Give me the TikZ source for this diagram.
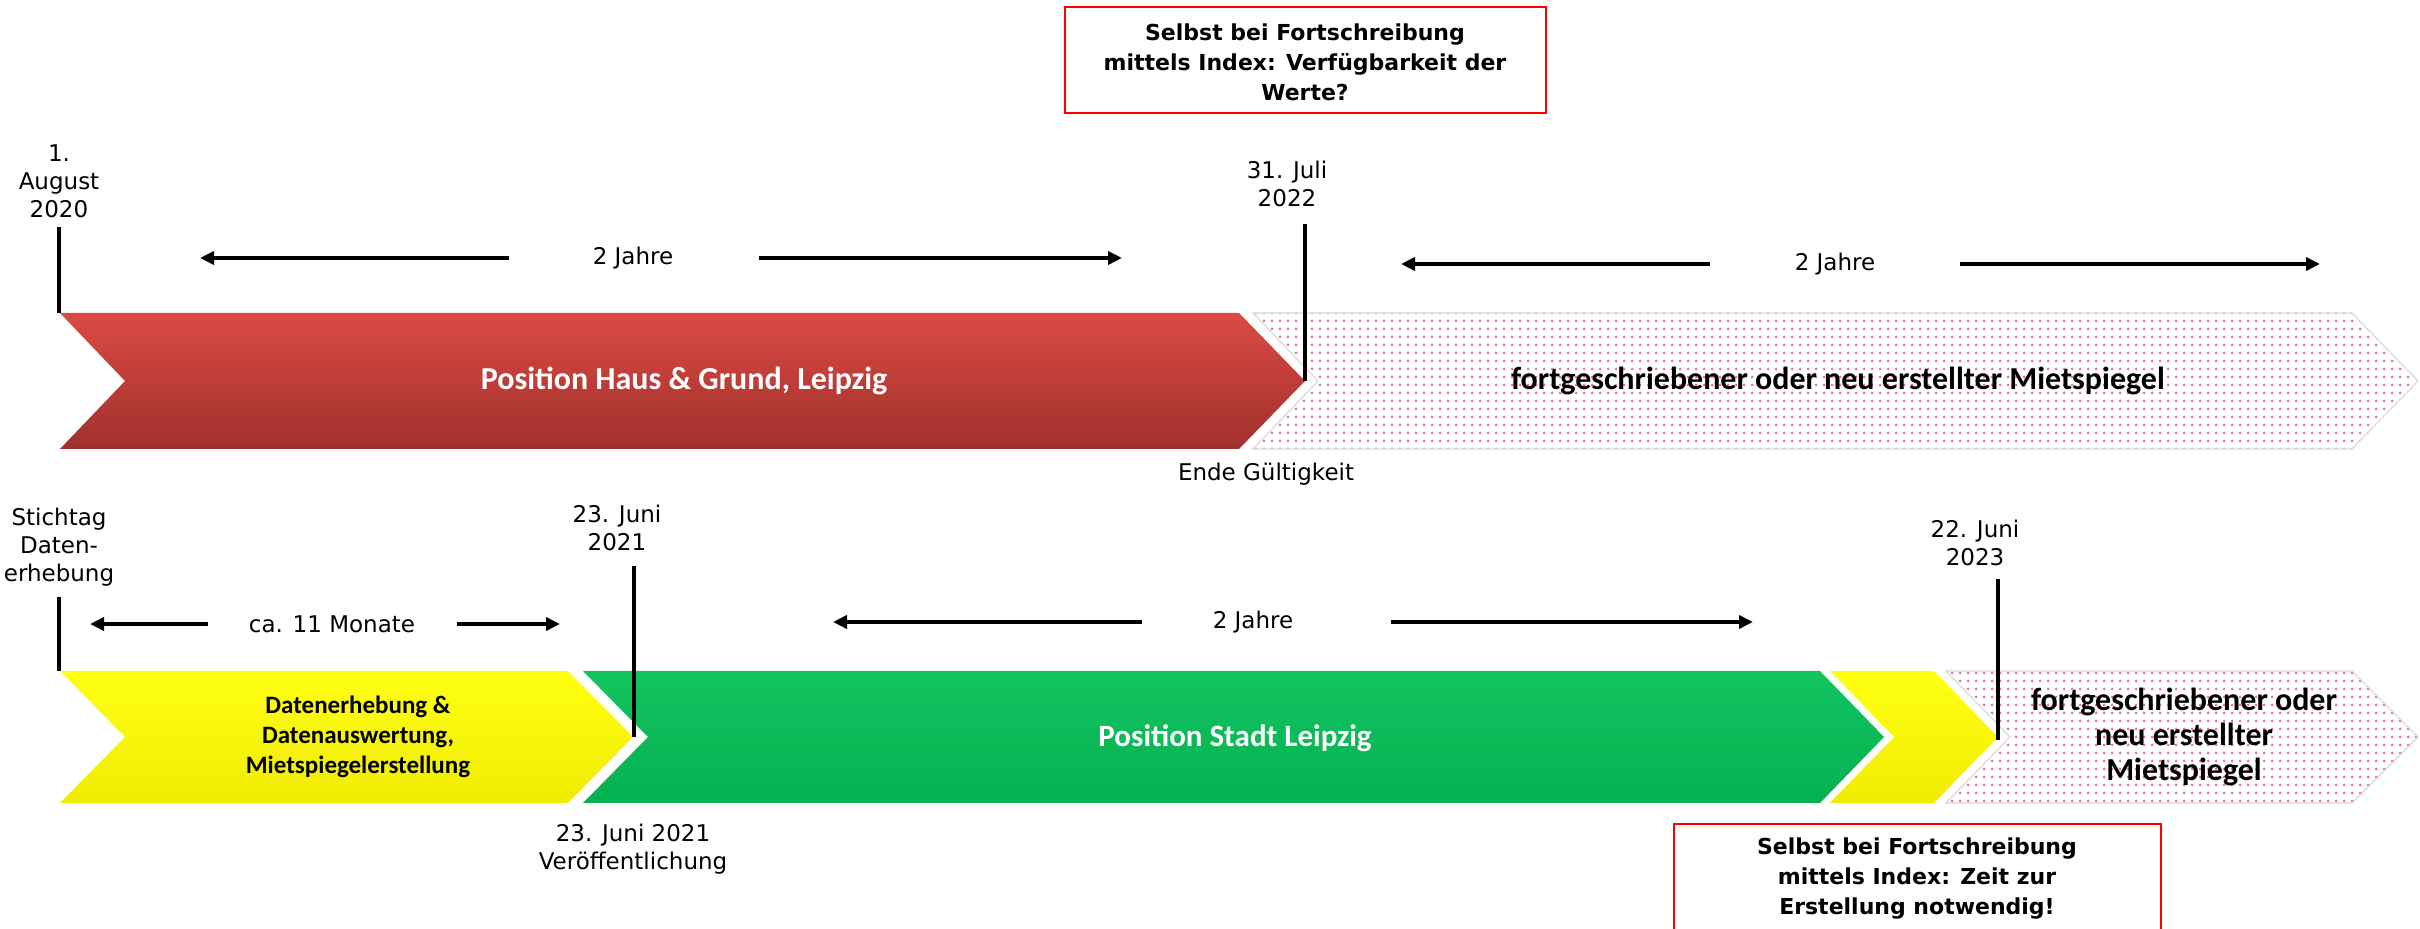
\documentclass[tikz,border=0pt]{standalone}
\usepackage{fontspec}
\setmainfont{DejaVu Sans}
\newfontfamily\calfont{Carlito}
\usetikzlibrary{arrows.meta,patterns}
\definecolor{redT}{RGB}{220,74,68}
\definecolor{redB}{RGB}{160,48,44}
\definecolor{grnT}{RGB}{18,196,96}
\definecolor{grnB}{RGB}{6,176,80}
\definecolor{yelT}{RGB}{255,255,20}
\definecolor{yelB}{RGB}{240,236,0}
\definecolor{dotc}{RGB}{240,112,132}
\pgfdeclarepatternformonly{pinkdots}{\pgfpoint{-1pt}{-1pt}}{\pgfpoint{1pt}{1pt}}{\pgfpoint{4pt}{4pt}}{%
  \pgfpathcircle{\pgfpointorigin}{0.75pt}\pgfusepath{fill}}
\begin{document}
\begin{tikzpicture}[x=0.5pt,y=-0.5pt,
  lbl/.style={font=\fontsize{11.5}{14}\selectfont, align=center, inner sep=0pt},
  boxtxt/.style={font=\bfseries\fontsize{11}{15}\selectfont, align=center, inner sep=0pt},
  boxframe/.style={draw=red, line width=1pt},
  vline/.style={line width=2.2pt},
  arr/.style={line width=2pt, -{Triangle[length=7pt,width=6.5pt]}},
  chevtxt/.style={font=\calfont\bfseries\fontsize{16}{17.5}\selectfont, align=center, inner sep=0pt},
  dotfill/.style={pattern=pinkdots, pattern color=dotc, draw=black!15, line width=0.6pt}]
\clip (0,0) rectangle (2420,929);
\fill[white] (0,0) rectangle (2420,929);

% ---------- top row chevrons ----------
\shade[top color=redT, bottom color=redB] (60,313) -- (1239,313) -- (1305,381) -- (1239,449) -- (60,449) -- (125,381) -- cycle;
\path[dotfill] (1253,313) -- (2352,313) -- (2418,381) -- (2352,449) -- (1253,449) -- (1318,381) -- cycle;
\node[chevtxt, text=white] (c1) at (684,381) {Position Haus \& Grund, Leipzig};
\node[chevtxt] (c2) at (1838,381) {fortgeschriebener oder neu erstellter Mietspiegel};

% ---------- bottom row chevrons ----------
\shade[top color=yelT, bottom color=yelB] (60,671) -- (568,671) -- (633,737) -- (568,803) -- (60,803) -- (125,737) -- cycle;
\shade[top color=grnT, bottom color=grnB] (583,671) -- (1820,671) -- (1884,737) -- (1820,803) -- (583,803) -- (648,737) -- cycle;
\shade[top color=yelT, bottom color=yelB] (1830,671) -- (1934,671) -- (1998,737) -- (1934,803) -- (1830,803) -- (1894,737) -- cycle;
\path[dotfill] (1946,671) -- (2352,671) -- (2418,737) -- (2352,803) -- (1946,803) -- (2010,737) -- cycle;
\node[chevtxt, font=\calfont\bfseries\fontsize{12.5}{15}\selectfont] (c3) at (358,737) {Datenerhebung \&\\Datenauswertung,\\Mietspiegelerstellung};
\node[chevtxt, text=white, font=\calfont\bfseries\fontsize{15.5}{17}\selectfont] (c4) at (1235,738) {Position Stadt Leipzig};
\node[chevtxt] (c5) at (2184,737) {fortgeschriebener oder\\neu erstellter\\Mietspiegel};

% ---------- labels ----------
\node[lbl] (l1) at (59,181) {1.\\August\\2020};
\node[lbl] (l2) at (1287,184) {31. Juli\\2022};
\node[lbl] (l3) at (1266,474) {Ende G\"ultigkeit};
\node[lbl] (l4) at (59,547) {Stichtag\\Daten-\\erhebung};
\node[lbl] (l5) at (617,528) {23. Juni\\2021};
\node[lbl] (l6) at (1975,543) {22. Juni\\2023};
\node[lbl] (l7) at (633,849) {23. Juni 2021\\Ver\"offentlichung};

% ---------- markers ----------
\coordinate (m1a) at (59,227);  \coordinate (m1b) at (59,313);
\coordinate (m2a) at (1305,224); \coordinate (m2b) at (1305,381);
\coordinate (m3a) at (59,597);  \coordinate (m3b) at (59,671);
\coordinate (m4a) at (634,566); \coordinate (m4b) at (634,737);
\coordinate (m5a) at (1998,579); \coordinate (m5b) at (1998,740);
\draw[vline] (m1a) -- (m1b);
\draw[vline] (m2a) -- (m2b);
\draw[vline] (m3a) -- (m3b);
\draw[vline] (m4a) -- (m4b);
\draw[vline] (m5a) -- (m5b);

% ---------- durations ----------
\node[lbl] (d1) at (633,258) {2 Jahre};
\coordinate (d1l) at (509,258); \coordinate (d1lt) at (200,258);
\coordinate (d1r) at (759,258); \coordinate (d1rt) at (1122,258);
\draw[arr] (d1l) -- (d1lt);
\draw[arr] (d1r) -- (d1rt);

\node[lbl] (d2) at (1835,264) {2 Jahre};
\coordinate (d2l) at (1710,264); \coordinate (d2lt) at (1401,264);
\coordinate (d2r) at (1960,264); \coordinate (d2rt) at (2320,264);
\draw[arr] (d2l) -- (d2lt);
\draw[arr] (d2r) -- (d2rt);

\node[lbl] (d3) at (332,624) {ca. 11 Monate};
\coordinate (d3l) at (208,624); \coordinate (d3lt) at (90,624);
\coordinate (d3r) at (457,624); \coordinate (d3rt) at (560,624);
\draw[arr] (d3l) -- (d3lt);
\draw[arr] (d3r) -- (d3rt);

\node[lbl] (d4) at (1253,622) {2 Jahre};
\coordinate (d4l) at (1142,622); \coordinate (d4lt) at (833,622);
\coordinate (d4r) at (1391,622); \coordinate (d4rt) at (1753,622);
\draw[arr] (d4l) -- (d4lt);
\draw[arr] (d4r) -- (d4rt);

% ---------- boxes ----------
\draw[boxframe] (1065,7) rectangle (1546,113);
\node[boxtxt] (b1) at (1305,62) {Selbst bei Fortschreibung\\mittels Index: Verf\"ugbarkeit der\\Werte?};
\draw[boxframe] (1674,824) rectangle (2161,990);
\node[boxtxt] (b2) at (1917,879) {Selbst bei Fortschreibung\\mittels Index: Zeit zur\\Erstellung notwendig!};
\end{tikzpicture}
\end{document}
